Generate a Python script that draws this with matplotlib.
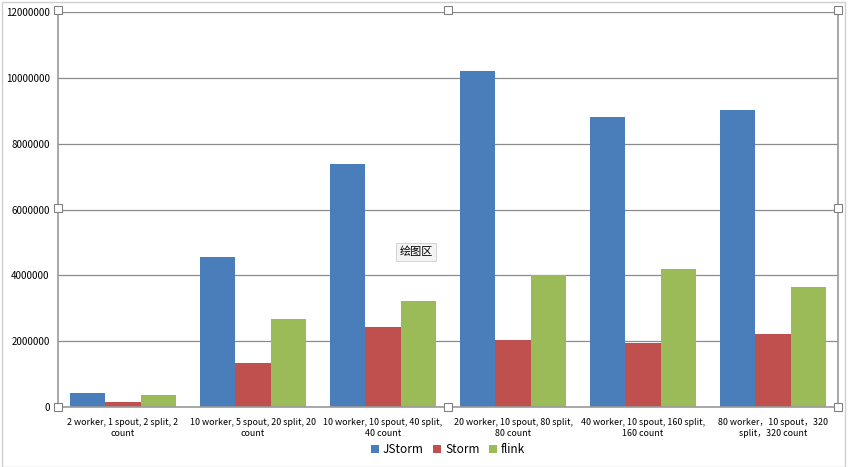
import numpy as np
import matplotlib.pyplot as plt
from matplotlib.patches import Rectangle

plt.rcParams['font.family'] = ['Noto Sans CJK SC', 'DejaVu Sans']

categories = ['2 worker, 1 spout, 2 split, 2\ncount',
              '10 worker, 5 spout, 20 split, 20\ncount',
              '10 worker, 10 spout, 40 split,\n40 count',
              '20 worker, 10 spout, 80 split,\n80 count',
              '40 worker, 10 spout, 160 split,\n160 count',
              '80 worker\uff0c10 spout\uff0c320\nsplit\uff0c320 count']
jstorm = [420000, 4560000, 7380000, 10200000, 8800000, 9020000]
storm = [140000, 1330000, 2420000, 2030000, 1940000, 2220000]
flink = [360000, 2660000, 3210000, 4010000, 4190000, 3660000]
yticks = [0, 2000000, 4000000, 6000000, 8000000, 10000000, 12000000]

fig = plt.figure(figsize=(8.48, 4.67), dpi=100)
ax = fig.add_axes([58/848, 1-407/467, 780/848, 395/467])

x = np.arange(len(categories))
w = 0.27
ax.bar(x - w, jstorm, w, color='#4a7ebb', label='JStorm')
ax.bar(x, storm, w, color='#c0504d', label='Storm')
ax.bar(x + w, flink, w, color='#9bbb59', label='flink')

ax.set_xlim(-0.5, len(categories) - 0.5)
ax.set_ylim(0, 12000000)
ax.set_yticks(yticks)
ax.set_yticklabels([str(v) for v in yticks], fontsize=7)
ax.set_xticks(x)
ax.set_xticklabels(categories, fontsize=6.4, linespacing=1.25)
ax.tick_params(axis='x', length=0, pad=8)
ax.tick_params(axis='y', length=0, pad=6)
ax.yaxis.grid(True, color='#8c8c8c', linewidth=0.9)
ax.set_axisbelow(True)
for s in ['left', 'bottom', 'right']:
    ax.spines[s].set_color('#9a9a9a')
    ax.spines[s].set_linewidth(1.2)
ax.spines['top'].set_visible(False)

ax.legend(loc='lower center', bbox_to_anchor=(448/848, 0.0), bbox_transform=fig.transFigure,
          ncol=3, frameon=False, fontsize=8.5, handlelength=0.7, handleheight=0.7,
          handletextpad=0.3, columnspacing=0.8)

# chart area border
fig.patches.append(Rectangle((2/848, 0), 843/848, 1 - 2/467, transform=fig.transFigure,
                             fill=False, edgecolor='#d0d0d0', linewidth=1))

# selection handles around the plot area
for hx in [58, 448, 838]:
    for hy in [10, 208, 407]:
        if hx == 448 and hy == 208:
            continue
        fig.patches.append(Rectangle(((hx - 4) / 848, 1 - (hy + 4) / 467), 8/848, 8/467,
                                     transform=fig.transFigure, facecolor='white',
                                     edgecolor='#808080', linewidth=0.8, zorder=5))

fig.text(416/848, 1 - 252/467, '绘图区', fontsize=8, ha='center', va='center',
         bbox=dict(boxstyle='square,pad=0.3', facecolor='#f4f4f4', edgecolor='#cfcfcf', linewidth=0.6))

fig.savefig('out.png', dpi=100)
